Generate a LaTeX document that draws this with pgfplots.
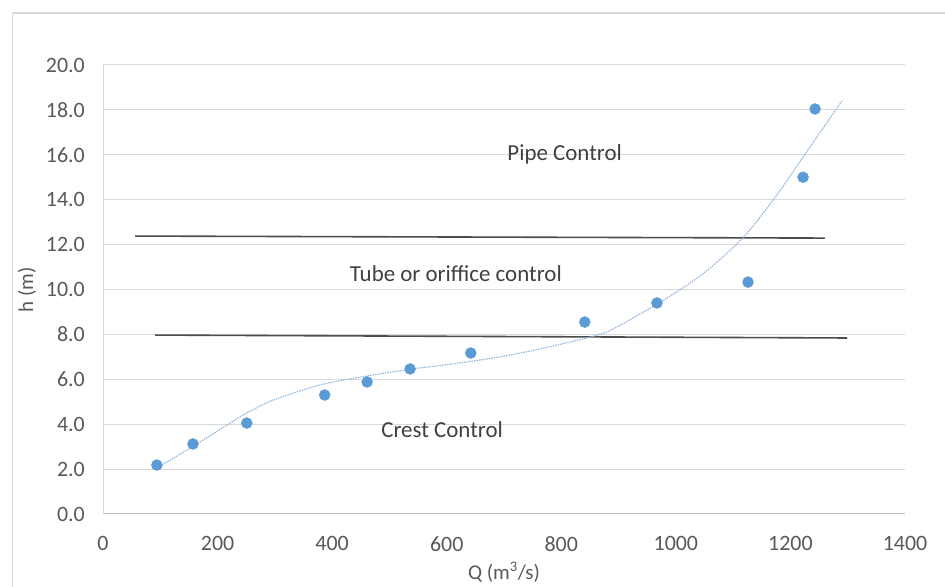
\documentclass[border=0pt]{standalone}
\usepackage{fontspec}
\setmainfont{Carlito}
\usepackage{pgfplots}
\pgfplotsset{compat=1.18}
\definecolor{gridc}{HTML}{D9D9D9}
\definecolor{axisc}{HTML}{BFBFBF}
\definecolor{tickc}{HTML}{595959}
\definecolor{ptc}{HTML}{5B9BD5}
\definecolor{trendc}{HTML}{8FB4DE}
\definecolor{linec}{HTML}{4D4D4D}
\definecolor{textc}{HTML}{404040}
\begin{document}
\begin{tikzpicture}
\useasboundingbox (0bp,0bp) rectangle (945bp,587bp);
\fill[white] (0bp,0bp) rectangle (945bp,587bp);
\draw[gridc, line width=1.2bp] (12.5bp,-10bp) -- (12.5bp,574bp) -- (960bp,574bp);
\begin{axis}[
  at={(103bp,73bp)}, anchor=south west,
  scale only axis, width=802bp, height=449bp,
  xmin=0, xmax=1400, ymin=0, ymax=20,
  xtick={0,200,...,1400}, ytick={0,2,...,20},
  ymajorgrids, grid style={gridc, line width=1bp},
  axis x line*=bottom, axis y line*=left,
  x axis line style={axisc, line width=1bp, -},
  y axis line style={gridc, line width=1bp, -},
  major tick length=0pt,
  /pgf/number format/assume math mode=true,
  tick label style={font=\fontsize{22}{24}\selectfont, text=tickc, inner sep=0pt},
  yticklabel style={xshift=-18bp, /pgf/number format/.cd, fixed, fixed zerofill, precision=1},
  xticklabel style={yshift=-22bp, /pgf/number format/.cd, fixed, 1000 sep={}},
  clip=false,
]
% boundary lines
\addplot[linec, line width=1.6bp] coordinates {(56,12.38) (1260,12.29)};
\addplot[linec, line width=1.6bp] coordinates {(91,7.97) (1299,7.84)};
% trendline
\addplot[trendc, line width=1.1bp, dash pattern=on 1.5bp off 1bp, smooth, tension=0.5] coordinates {
 (94,2.05) (150,2.9) (200,3.7) (251,4.5) (300,5.1) (379,5.75) (450,6.1)
 (536,6.45) (600,6.65) (693,7.0) (780,7.45) (867,8.0) (902,8.4) (977,9.5)
 (1047,10.7) (1117,12.3) (1176,14.2) (1222,15.9) (1260,17.3) (1290,18.4)};
% data points
\addplot[only marks, mark=*, mark size=5.5bp, mark options={fill=ptc, draw=ptc}] coordinates {
 (94,2.18) (157,3.12) (251,4.05) (387,5.3) (461,5.88) (536,6.46) (642,7.17)
 (841,8.55) (967,9.4) (1126,10.33) (1222,15.0) (1243,18.04)};
\node[text=textc, font=\fontsize{23}{26}\selectfont] at (axis cs:806,16.0) {Pipe Control};
\node[text=textc, font=\fontsize{23}{26}\selectfont] at (axis cs:616,10.7) {Tube or oriffice control};
\node[text=textc, font=\fontsize{23}{26}\selectfont] at (axis cs:592,3.74) {Crest Control};
\end{axis}
\node[text=tickc, font=\fontsize{21}{24}\selectfont, rotate=90] at (27bp,297bp) {h (m)};
\node[text=tickc, font=\fontsize{21}{24}\selectfont] at (504bp,15bp) {Q (m\textsuperscript{3}/s)};
\end{tikzpicture}
\end{document}
